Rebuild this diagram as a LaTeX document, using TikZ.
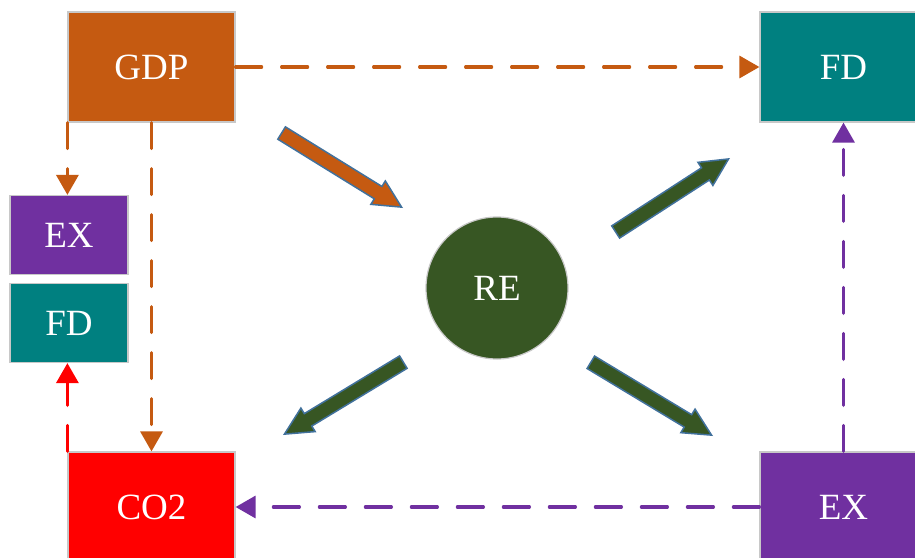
\documentclass[tikz,border=0pt]{standalone}
\usepackage{fontspec}
\setmainfont{Liberation Serif}
\usetikzlibrary{arrows.meta,shapes.arrows}
\definecolor{cOrange}{HTML}{C55A11}
\definecolor{cTeal}{HTML}{008080}
\definecolor{cPurple}{HTML}{7030A0}
\definecolor{cRed}{HTML}{FF0000}
\definecolor{cGreen}{HTML}{375623}
\definecolor{cEdge}{HTML}{C8C8C8}
\definecolor{cBlue}{HTML}{41719C}
\tikzset{
 box/.style={draw=cEdge, line width=1.2pt, text=white, font=\fontsize{37}{40}\selectfont, inner sep=0pt},
 bigbox/.style={box, minimum width=167pt, minimum height=110pt},
 smallbox/.style={box, minimum width=118pt, minimum height=79pt},
 dashlink/.style={line width=3.2pt, line cap=round, dash pattern=on 26pt off 20pt, -{Triangle[length=20pt,width=22pt]}},
 blkarrow/.style={single arrow, draw=cBlue, line width=1.5pt, inner sep=6.5pt, single arrow head extend=6.5pt, single arrow tip angle=53, anchor=tip, minimum height=#1},
}
\begin{document}
\begin{tikzpicture}[x=1pt,y=-1pt]
\clip (0,0) rectangle (915,557);
\fill[white] (0,0) rectangle (915,557);
\node[bigbox, fill=cOrange] (gdp) at (151.5,67) {GDP};
\node[bigbox, fill=cTeal] (fdt) at (843.5,67) {FD};
\node[smallbox, fill=cPurple] (exl) at (69,235) {EX};
\node[smallbox, fill=cTeal] (fdl) at (69,323) {FD};
\node[bigbox, fill=cRed] (co2) at (151.5,507) {CO2};
\node[bigbox, fill=cPurple] (exr) at (843.5,507) {EX};
\node[circle, fill=cGreen, draw=cEdge, line width=1.2pt, minimum size=142pt, inner sep=0pt, text=white, font=\fontsize{37}{40}\selectfont] (re) at (497,288) {RE};

\draw[dashlink, cOrange] (gdp.east) -- (fdt.west);
\draw[dashlink, cOrange] (gdp.south west) -- (gdp.south west |- exl.north);
\draw[dashlink, cOrange] (gdp.south) -- (co2.north);
\draw[dashlink, cRed] (co2.north west) -- (co2.north west |- fdl.south);
\draw[dashlink, cPurple] (exr.north) -- (fdt.south);
\draw[dashlink, cPurple] (exr.west) -- (co2.east);

\node[blkarrow=141pt, fill=cOrange, rotate=-31.7] (a1) at (403,208) {};
\node[blkarrow=134.5pt, fill=cGreen, rotate=32.9] (a2) at (730,158) {};
\node[blkarrow=139pt, fill=cGreen, rotate=-148.8] (a3) at (283,435) {};
\node[blkarrow=141pt, fill=cGreen, rotate=-31.1] (a4) at (713,436) {};
\end{tikzpicture}
\end{document}
